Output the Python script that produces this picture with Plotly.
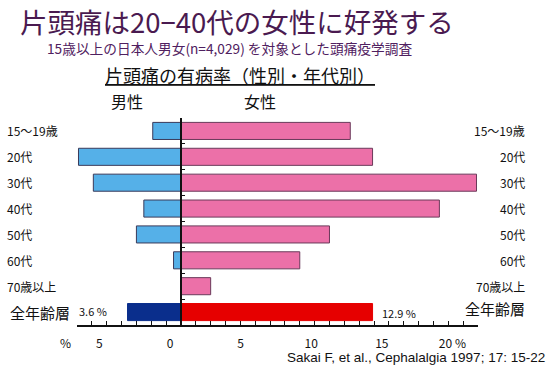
import plotly.graph_objects as go

# ---- data ----
categories = ["15〜19歳", "20代", "30代", "40代", "50代", "60代", "70歳以上", "全年齢層"]
male = [1.9, 6.9, 5.9, 2.5, 3.0, 0.5, 0.0, 3.6]
female = [11.4, 12.9, 19.9, 17.4, 10.0, 8.0, 2.0, 12.9]
tick_vals = [-7.4, -5, 0, 5, 10, 15, 20]
tick_text = ["%", "5", "0", "5", "10", "15", "20 %"]

title = "片頭痛は20−40代の女性に好発する"
subtitle = "15歳以上の日本人男女(n=4,029) を対象とした頭痛疫学調査"
chart_title = "片頭痛の有病率（性別・年代別）"
male_label = "男性"
female_label = "女性"
citation = "Sakai F, et al., Cephalalgia 1997; 17: 15-22"

JP = "Noto Sans CJK JP"
W, H = 549, 382
ML, MR, MT, MB = 60, 71, 118, 57
PW = W - ML - MR
PH = H - MT - MB


def px(x):
    return (x - ML) / PW


def py(y):
    return (H - MB - y) / PH


n = len(categories)
male_colors = ["#55b0e8"] * (n - 1) + ["#0a2e8c"]
female_colors = ["#ec70a8"] * (n - 1) + ["#e60000"]
male_line = ["#3a3a5a"] * (n - 1) + ["#0a2e8c"]
female_line = ["#6a3a5a"] * (n - 1) + ["#e60000"]

fig = go.Figure()
fig.add_trace(go.Bar(
    y=categories, x=[-v for v in male], orientation="h",
    marker=dict(color=male_colors, line=dict(color=male_line, width=1)),
    showlegend=False, hoverinfo="skip",
))
fig.add_trace(go.Bar(
    y=categories, x=female, orientation="h",
    marker=dict(color=female_colors, line=dict(color=female_line, width=1)),
    showlegend=False, hoverinfo="skip",
))
# dummy trace to carry the tick-label axis
fig.add_trace(go.Scatter(x=[None], y=[None], xaxis="x2", yaxis="y",
                         showlegend=False, hoverinfo="skip"))

x_lo, x_hi = -7, 20
dom0 = px(77)
ypos = dom0 + (1 - dom0) * (0 - x_lo) / (x_hi - x_lo)

# label axis scale: 14.12 px per unit, zero at pixel 170
scale, zero_px = 14.12, 170
x2_lo = (ML - zero_px) / scale
x2_hi = (ML + PW - zero_px) / scale

annotations = []
for i, c in enumerate(categories):
    big = (i == n - 1)
    annotations.append(dict(
        x=px(5 if not big else 8), y=c, xref="paper", yref="y", text=c,
        xanchor="left", yanchor="middle", showarrow=False,
        font=dict(family=JP, size=15 if big else 12, color="#111111"),
    ))
    annotations.append(dict(
        x=px(527), y=c, xref="paper", yref="y", text=c,
        xanchor="right", yanchor="middle", showarrow=False,
        yshift=4 if big else 0,
        font=dict(family=JP, size=15 if big else 12, color="#111111"),
    ))

annotations += [
    dict(x=px(18), y=py(21), xref="paper", yref="paper", text=title,
         xanchor="left", yanchor="middle", showarrow=False,
         font=dict(family=JP, size=27.5, color="#4a1a50")),
    dict(x=px(45), y=py(48), xref="paper", yref="paper", text=subtitle,
         xanchor="left", yanchor="middle", showarrow=False,
         font=dict(family=JP, size=13.7, color="#4f2060")),
    dict(x=px(240), y=py(75), xref="paper", yref="paper", text="<u>" + chart_title + "</u>",
         xanchor="center", yanchor="middle", showarrow=False,
         font=dict(family=JP, size=18, color="#111111")),
    dict(x=px(127), y=py(101), xref="paper", yref="paper", text=male_label,
         xanchor="center", yanchor="middle", showarrow=False,
         font=dict(family=JP, size=16, color="#111111")),
    dict(x=px(260), y=py(101), xref="paper", yref="paper", text=female_label,
         xanchor="center", yanchor="middle", showarrow=False,
         font=dict(family=JP, size=16, color="#111111")),
    dict(x=-male[-1], y=categories[-1], xref="x", yref="y", text=f"{male[-1]} %",
         xanchor="right", yanchor="middle", showarrow=False, xshift=-19, yshift=1,
         font=dict(family=JP, size=11, color="#111111")),
    dict(x=female[-1], y=categories[-1], xref="x", yref="y", text=f"{female[-1]} %",
         xanchor="left", yanchor="middle", showarrow=False, xshift=7, yshift=-1,
         font=dict(family=JP, size=11, color="#111111")),
    dict(x=px(547), y=py(357), xref="paper", yref="paper", text=citation,
         xanchor="right", yanchor="middle", showarrow=False,
         font=dict(family="Liberation Sans", size=13.5, color="#111111")),
]

fig.update_layout(
    width=W, height=H,
    margin=dict(l=ML, r=MR, t=MT, b=MB, pad=0),
    paper_bgcolor="white", plot_bgcolor="rgba(0,0,0,0)",
    barmode="relative", bargap=0.34,
    showlegend=False,
    xaxis=dict(domain=[dom0, 1], range=[x_lo, x_hi], showgrid=False, zeroline=False,
               showline=True, linecolor="#111111", linewidth=1.5,
               ticks="inside", ticklen=4, tickcolor="#111111", tick0=0, dtick=1,
               showticklabels=False, anchor="y", fixedrange=True),
    xaxis2=dict(domain=[0, 1], range=[x2_lo, x2_hi], showgrid=False, zeroline=False,
                showline=False, ticks="", tickmode="array", tickvals=tick_vals,
                ticktext=tick_text, anchor="y", side="bottom",
                ticklabelstandoff=10,
                tickfont=dict(family=JP, size=12, color="#111111"), fixedrange=True),
    yaxis=dict(type="category", categoryorder="array", categoryarray=categories[::-1],
               range=[-0.5, n - 0.5], anchor="free", position=ypos,
               showgrid=False, zeroline=False, showline=True, linecolor="#111111",
               linewidth=1.5, ticks="inside", ticklen=3, tickson="boundaries",
               tickcolor="#111111", showticklabels=False, fixedrange=True),
    annotations=annotations,
)

fig.write_html("out.html", config={"displayModeBar": False},
               post_script="document.body.style.margin='0';")
